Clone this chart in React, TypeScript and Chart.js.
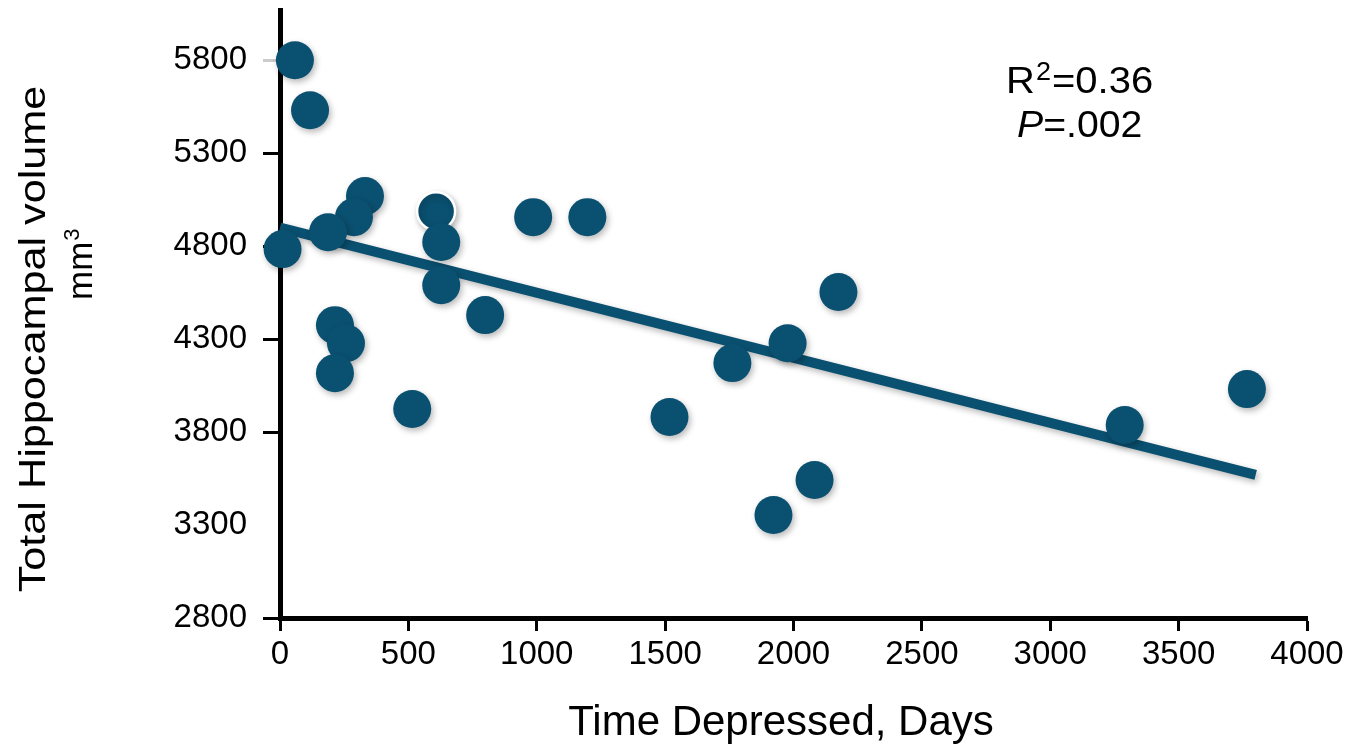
import { useEffect, useRef } from "react";
import { Chart, registerables } from "chart.js";

Chart.register(...registerables);

// ---- data ----
const daysDepressed = [58, 117, 331, 288, 187, 10, 608, 628, 628, 799, 214, 257, 214, 515, 986, 1197, 1517, 1762, 1977, 2175, 1922, 2082, 3290, 3766];
const hippocampalVolume = [5800, 5531, 5069, 4956, 4875, 4784, 4988, 4822, 4590, 4429, 4375, 4278, 4117, 3924, 4956, 4956, 3881, 4171, 4278, 4553, 3354, 3542, 3838, 4031];
const trendX = [0, 3800];
const trendY = [4900, 3570];
const yTickValues = [2800, 3300, 3800, 4300, 4800, 5300, 5800];
const xTickValues = [0, 500, 1000, 1500, 2000, 2500, 3000, 3500, 4000];
const xTitle = "Time Depressed, Days";
const yTitle = "Total Hippocampal volume";
const yTitleUnit = "mm";
const r2Text = "=0.36";
const pText = "=.002";

const FONT = "'Liberation Sans', Arial, Helvetica, sans-serif";
const MARK = "#0a5070";

const textPlugin = {
  id: "customText",
  afterDraw(chart: any) {
    const ctx = chart.ctx as CanvasRenderingContext2D;
    ctx.save();
    ctx.fillStyle = "#000";
    ctx.textBaseline = "alphabetic";

    // x title
    ctx.font = `42px ${FONT}`;
    ctx.textAlign = "center";
    ctx.fillText(xTitle, 781, 735);

    // y title (rotated)
    ctx.save();
    ctx.translate(45, 339);
    ctx.rotate(-Math.PI / 2);
    ctx.scale(1.2, 1);
    ctx.font = `36px ${FONT}`;
    ctx.textAlign = "center";
    ctx.fillText(yTitle, 0, 0);
    ctx.restore();

    // mm^3
    ctx.save();
    ctx.translate(92, 300);
    ctx.rotate(-Math.PI / 2);
    ctx.font = `35px ${FONT}`;
    ctx.textAlign = "left";
    ctx.fillText(yTitleUnit, 0, 0);
    const w = ctx.measureText(yTitleUnit).width;
    ctx.font = `22px ${FONT}`;
    ctx.fillText("3", w + 1, -13);
    ctx.restore();

    // R^2 annotation
    ctx.save();
    ctx.translate(1006, 93);
    ctx.scale(1.08, 1);
    ctx.textAlign = "left";
    ctx.font = `37px ${FONT}`;
    ctx.fillText("R", 0, 0);
    let x = ctx.measureText("R").width;
    ctx.font = `25px ${FONT}`;
    ctx.fillText("2", x + 1, -13);
    x += ctx.measureText("2").width + 2;
    ctx.font = `37px ${FONT}`;
    ctx.fillText(r2Text, x, 0);
    ctx.restore();

    // P annotation
    ctx.save();
    ctx.translate(1017, 137);
    ctx.scale(1.06, 1);
    ctx.textAlign = "left";
    ctx.font = `italic 37px ${FONT}`;
    ctx.fillText("P", 0, 0);
    const pw = ctx.measureText("P").width;
    ctx.font = `37px ${FONT}`;
    ctx.fillText(pText, pw, 0);
    ctx.restore();

    ctx.restore();
  },
};

const shadowPlugin = {
  id: "markShadow",
  beforeDatasetDraw(chart: any) {
    const ctx = chart.ctx as CanvasRenderingContext2D;
    ctx.save();
    ctx.shadowColor = "rgba(0,0,0,0.28)";
    ctx.shadowBlur = 6;
    ctx.shadowOffsetX = 2;
    ctx.shadowOffsetY = 3;
  },
  afterDatasetDraw(chart: any) {
    chart.ctx.restore();
  },
};

export default function App() {
  const canvasRef = useRef<HTMLCanvasElement | null>(null);

  useEffect(() => {
    if (!canvasRef.current) return;
    const points = daysDepressed.map((d, i) => ({ x: d, y: hippocampalVolume[i] }));
    const trend = trendX.map((d, i) => ({ x: d, y: trendY[i] }));
    const borderColors = points.map((_, i) => (i === 6 ? "#ffffff" : MARK));
    const borderWidths = points.map((_, i) => (i === 6 ? 2.5 : 0));

    const chart = new Chart(canvasRef.current, {
      type: "scatter",
      data: {
        datasets: [
          {
            type: "scatter",
            data: points,
            backgroundColor: MARK,
            borderColor: borderColors,
            borderWidth: borderWidths,
            pointRadius: 19,
            pointHoverRadius: 19,
            clip: false,
            order: 0,
          } as any,
          {
            type: "line",
            data: trend,
            borderColor: MARK,
            backgroundColor: MARK,
            borderWidth: 10,
            pointRadius: 0,
            borderCapStyle: "butt",
            fill: false,
            clip: false,
            order: 1,
          } as any,
        ],
      },
      options: {
        animation: false,
        responsive: true,
        maintainAspectRatio: false,
        layout: { autoPadding: false, padding: { top: 10, right: 43, left: 0, bottom: 0 } },
        plugins: {
          legend: { display: false },
          tooltip: { enabled: false },
        },
        scales: {
          x: {
            type: "linear",
            min: 0,
            max: 4000,
            afterBuildTicks: (s: any) => {
              s.ticks = xTickValues.map((v) => ({ value: v }));
            },
            afterFit: (s: any) => {
              s.height = 130;
              s.paddingLeft = 0;
              s.paddingRight = 0;
            },
            grid: {
              drawOnChartArea: false,
              drawTicks: true,
              tickLength: 13,
              tickWidth: 3,
              tickColor: "#000",
            },
            border: { display: true, color: "#000", width: 5 },
            ticks: {
              font: { family: FONT, size: 33 },
              color: "#000",
              padding: 4,
              maxRotation: 0,
              autoSkip: false,
              callback: (v: any) => String(v),
            },
          },
          y: {
            type: "linear",
            min: 2800,
            max: 6070,
            afterBuildTicks: (s: any) => {
              s.ticks = yTickValues.map((v) => ({ value: v }));
            },
            afterFit: (s: any) => {
              s.width = 280;
              s.paddingTop = 0;
              s.paddingBottom = 0;
            },
            grid: {
              drawOnChartArea: false,
              drawTicks: true,
              tickLength: 17,
              tickWidth: 3,
              tickColor: (c: any) =>
                c.tick && c.tick.value === 3300 ? "#ffffff" : c.tick && c.tick.value === 5800 ? "#cccccc" : "#000",
            },
            border: { display: true, color: "#000", width: 5 },
            ticks: {
              font: { family: FONT, size: 33 },
              color: "#000",
              padding: 16,
              autoSkip: false,
              callback: (v: any) => String(v),
            },
          },
        },
      },
      plugins: [shadowPlugin, textPlugin],
    });
    return () => chart.destroy();
  }, []);

  return (
    <div style={{ position: "fixed", left: 0, top: 0, width: 1350, height: 748, background: "#fff" }}>
      <canvas ref={canvasRef} style={{ display: "block" }} />
    </div>
  );
}
